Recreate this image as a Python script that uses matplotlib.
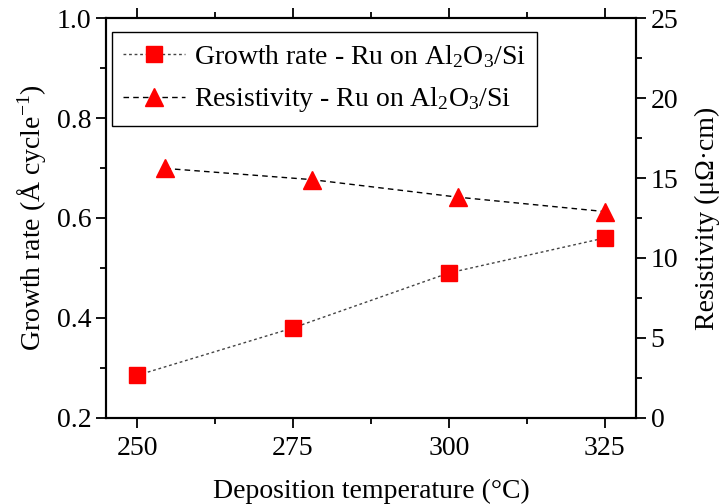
import matplotlib
matplotlib.use("Agg")
import matplotlib.pyplot as plt
from matplotlib.ticker import MultipleLocator

plt.rcParams["font.family"] = ["Liberation Serif", "DejaVu Serif"]
plt.rcParams["mathtext.fontset"] = "custom"
plt.rcParams["mathtext.rm"] = "Liberation Serif"
plt.rcParams["mathtext.default"] = "regular"

# deposition temperature (C)
temp_growth = [250, 275, 300, 325]
growth_rate = [0.285, 0.38, 0.49, 0.56]

# resistivity points are offset slightly in temperature
temp_resist = [254.5, 278, 301.5, 325]
resistivity = [15.6, 14.9, 13.8, 12.9]

fig = plt.figure(figsize=(7.26, 5.04), dpi=100)
ax = fig.add_axes([0.146, 0.171, 0.730, 0.793])
ax2 = ax.twinx()

ax.plot(temp_growth, growth_rate, linestyle=(0, (2, 2)), color="#444444", lw=1,
        marker="s", ms=11, mfc="red", mec="red",
        label="Growth rate - Ru on Al$_2$O$_3$/Si")
ax2.plot(temp_resist, resistivity, linestyle=(0, (4, 3)), color="black", lw=1,
         marker="^", ms=13, mfc="red", mec="red",
         label="Resistivity - Ru on Al$_2$O$_3$/Si")

ax.set_xlim(245, 330)
ax.set_ylim(0.2, 1.0)
ax2.set_ylim(0, 25)

ax.set_xticks([250, 275, 300, 325])
ax.xaxis.set_minor_locator(MultipleLocator(12.5))
ax.yaxis.set_major_locator(MultipleLocator(0.2))
ax.yaxis.set_minor_locator(MultipleLocator(0.1))
ax2.yaxis.set_major_locator(MultipleLocator(5))
ax2.yaxis.set_minor_locator(MultipleLocator(2.5))

for a in (ax, ax2):
    for s in a.spines.values():
        s.set_linewidth(1.5)
    a.tick_params(which="major", direction="out", length=7, width=1.3, labelsize=20)
    a.tick_params(which="minor", direction="out", length=4, width=1.3)
ax.tick_params(which="both", top=True)
ax.tick_params(axis="x", pad=6)

ax.set_xlabel("Deposition temperature (°C)", fontsize=20, labelpad=13)
ax.set_ylabel("Growth rate (Å cycle$^{-1}$)", fontsize=20, labelpad=6)
ax2.set_ylabel("Resistivity (μΩ·cm)", fontsize=20, labelpad=12)

h1, l1 = ax.get_legend_handles_labels()
h2, l2 = ax2.get_legend_handles_labels()
leg = ax2.legend(h1 + h2, l1 + l2, loc="upper left", fontsize=20, fancybox=False,
                 edgecolor="black", framealpha=1, handlelength=2.2, handletextpad=0.35,
                 borderpad=0.4, labelspacing=0.55, borderaxespad=0,
                 bbox_to_anchor=(0.012, 0.965))
leg.get_frame().set_linewidth(1)

fig.savefig("out.png", dpi=100)
